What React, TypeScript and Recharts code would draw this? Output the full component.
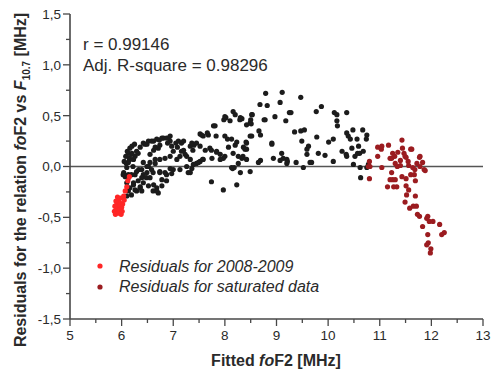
import React from 'react';
import { ScatterChart, Scatter, XAxis, YAxis, ReferenceLine } from 'recharts';

const xTicks = [5, 5.5, 6, 6.5, 7, 7.5, 8, 8.5, 9, 9.5, 10, 10.5, 11, 11.5, 12, 12.5, 13];
const yTicks = [-1.5, -1.25, -1, -0.75, -0.5, -0.25, 0, 0.25, 0.5, 0.75, 1, 1.25, 1.5];
const statLines = ['r = 0.99146', 'Adj. R-square = 0.98296'];
const legendLabels = ['Residuals for 2008-2009', 'Residuals for saturated data'];

const residualsAll: [number, number][] = [
  [8.79,0.72],[9.11,0.73],[8.68,0.61],[8.82,0.60],[9.07,0.63],[9.25,0.53],[8.16,0.54],[8.02,0.48],[8.10,0.45],[7.98,0.46],
  [8.33,0.47],[8.53,0.51],[8.51,0.42],[8.50,0.46],[8.78,0.46],[8.97,0.49],[7.81,0.40],[7.52,0.32],[7.68,0.31],[7.66,0.33],
  [7.83,0.30],[8.00,0.30],[8.05,0.27],[8.13,0.27],[8.23,0.24],[8.20,0.21],[8.36,0.19],[8.41,0.24],[8.49,0.30],[8.66,0.35],
  [8.69,0.31],[8.91,0.23],[9.10,0.13],[8.69,0.06],[8.42,0.07],[8.33,0.08],[8.26,0.10],[8.16,0.13],[8.07,0.19],[8.00,0.10],
  [7.97,0.08],[7.91,0.12],[7.84,0.14],[7.74,0.16],[7.62,0.16],[7.57,0.07],[7.52,0.05],[7.45,0.03],[7.33,0.07],[7.26,0.10],
  [7.20,0.16],[7.08,0.19],[7.05,0.23],[6.94,0.25],[6.91,0.28],[6.81,0.28],[6.74,0.21],[6.71,0.18],[6.65,0.19],[6.62,0.16],
  [6.55,0.12],[6.49,0.22],[6.52,0.25],[6.42,0.23],[6.36,0.19],[6.29,0.15],[6.26,0.10],[6.20,0.13],[6.15,0.08],[6.09,0.03],
  [6.22,0.00],[6.33,-0.03],[6.13,-0.08],[6.07,-0.10],[6.04,-0.06],[6.10,-0.16],[6.23,-0.18],[6.36,-0.20],[6.42,-0.16],[6.29,-0.24],
  [6.39,-0.24],[6.71,-0.26],[6.68,-0.21],[6.62,-0.18],[6.78,-0.13],[6.87,-0.08],[7.00,-0.03],[7.13,-0.03],[7.26,0.00],[7.33,-0.06],
  [7.36,-0.02],[6.94,-0.02],[6.74,-0.05],[6.55,-0.11],[6.49,-0.06],[6.42,-0.08],[6.52,0.00],[6.65,0.03],[6.74,0.07],[6.84,0.08],
  [6.94,0.10],[7.07,0.07],[7.13,0.10],[7.23,0.12],[7.38,0.16],[7.40,0.21],[7.52,0.20],[7.33,0.20],[7.20,0.25],[6.89,0.23],
  [6.97,0.20],[6.73,0.26],[6.62,0.25],[7.74,-0.15],[7.97,-0.23],[8.23,-0.18],[8.49,-0.05],[8.94,0.08],[9.13,0.08],[9.20,0.03],
  [8.15,-0.02],[8.18,-0.01],[8.26,0.03],
  [6.16,0.07],[6.58,0.25],[6.68,0.27],[6.87,0.28],[6.94,0.30],[6.10,-0.01],[6.03,-0.08],[6.26,-0.08],[6.39,-0.03],[6.49,0.00],
  [6.61,-0.06],[6.68,-0.24],[6.97,-0.07],[7.39,0.02],[7.58,0.07],[7.00,0.15],[7.16,0.23],[7.36,0.23],[7.58,0.30],[7.78,0.40],
  [8.00,0.49],[8.29,0.46],
  [8.30,0.48],[8.42,0.41],[8.52,0.51],[8.42,0.23],[8.39,0.17],[8.35,0.10],[8.52,0.30],[8.76,0.46],[9.18,0.45],[9.28,0.53],
  [9.47,0.68],[9.35,0.34],[9.47,0.35],[9.54,0.36],[9.49,0.25],[9.59,0.17],[9.62,0.20],[9.81,0.13],[9.94,0.11],[9.78,0.29],
  [9.77,0.54],[9.87,0.59],[10.01,0.24],[10.10,0.27],[10.12,0.53],[10.17,0.51],[10.17,0.45],[10.18,0.40],[10.36,0.53],[10.27,0.15],
  [10.35,0.12],[10.48,0.36],[10.36,0.33],[10.39,0.30],[10.43,0.27],[10.46,0.18],[10.56,0.27],[10.59,0.20],[10.52,0.10],[10.57,0.13],
  [10.61,0.13],[10.67,0.36],[10.75,0.31],[10.74,0.27],[10.68,0.15],[10.49,0.02],[10.63,-0.11],[10.75,-0.01],[10.78,0.02],[10.62,-0.01],
  [9.59,0.12],[9.65,0.04],[9.52,-0.01],[9.68,0.04],[9.38,0.04],[9.20,0.07],[9.07,0.06],[8.91,0.22],[8.30,-0.06],[10.10,0.05],
  [10.36,0.10],[9.21,0.05],
  [6.13,0.13],[6.19,0.12],[6.23,0.07],[6.13,0.04],[6.32,0.13],[6.42,0.04],[6.45,0.22],[6.78,0.28],[6.13,-0.11],[6.19,-0.08],
  [6.29,-0.05],[6.23,-0.16],[6.32,-0.14],[6.39,-0.11],[6.48,-0.11],[6.16,-0.21],[6.26,-0.23],[6.36,-0.21],[6.52,-0.19],[6.61,-0.24],
  [6.78,-0.19],[6.87,-0.14],[6.74,-0.06],[6.84,-0.06],[6.13,-0.24],[6.19,-0.28],[6.10,-0.29],[6.58,-0.03],[6.55,0.04],[6.65,0.07],
  [6.05,0.05],[6.08,0.10],[6.11,0.15],[6.16,0.18],[6.20,0.20],[6.25,0.22],
  [7.10,0.25],[7.45,0.23],[7.55,0.31],[8.20,0.51],[8.49,0.43],[7.16,0.15],[7.71,0.18],[7.84,0.15],[8.42,0.17],[7.91,0.07],
  [7.75,0.08],[7.49,0.04],[7.29,-0.06],[8.13,-0.01],[8.65,0.04]
];

const residuals20082009: [number, number][] = [
  [5.86,-0.44],[5.88,-0.47],[5.90,-0.40],[5.92,-0.45],[5.91,-0.36],[5.93,-0.42],[5.95,-0.38],[5.87,-0.39],[5.94,-0.33],[5.97,-0.36],
  [5.96,-0.43],[5.99,-0.47],[6.00,-0.40],[6.02,-0.37],[5.98,-0.31],[5.92,-0.30],[6.04,-0.29],[6.07,-0.24],[6.10,-0.20],[6.12,-0.14],
  [6.15,-0.10],[5.89,-0.34],[5.95,-0.46],[6.01,-0.44],[6.05,-0.33]
];

const residualsSaturated: [number, number][] = [
  [10.80,0.05],[10.78,0.00],[10.80,-0.12],[10.96,0.19],[11.03,0.17],[10.96,0.10],[11.04,-0.01],[11.17,0.21],[11.25,0.13],[11.23,0.08],
  [11.20,0.08],[11.29,0.10],[11.35,0.14],[11.43,0.26],[11.44,0.18],[11.47,0.13],[11.51,0.09],[11.60,0.17],[11.49,0.10],[11.30,0.03],
  [11.34,0.00],[11.40,0.01],[11.23,-0.06],[11.25,-0.13],[11.30,-0.13],[11.15,-0.20],[11.27,-0.20],[11.33,-0.20],[11.43,-0.10],[11.51,-0.12],
  [11.56,0.01],[11.60,-0.08],[11.64,-0.01],[11.67,-0.08],[11.69,-0.14],[11.51,-0.19],[11.52,-0.28],[11.69,-0.29],[11.49,-0.35],[11.58,-0.41],
  [11.65,-0.39],[11.71,-0.39],[11.78,0.10],[11.83,0.04],[11.86,-0.03],[11.78,0.00],[11.73,-0.47],[11.77,-0.49],[11.91,-0.51],[11.96,-0.54],
  [12.03,-0.54],[11.93,-0.49],[11.83,-0.59],[12.16,-0.57],[12.25,-0.65],[12.20,-0.67],[11.93,-0.67],[11.94,-0.75],[11.91,-0.77],[11.99,-0.81],
  [11.98,-0.85],[11.04,0.20],[11.62,0.17],[11.77,0.09],[11.88,-0.04],[10.81,0.00],[11.40,0.06],[11.55,0.05],[11.68,-0.03],[11.72,0.03],
  [11.56,-0.23],[11.20,-0.13]
];

const toPoints = (arr: [number, number][]) => arr.map(([x, y]) => ({ x, y }));

const FONT = '"Liberation Sans", Arial, sans-serif';
const AXIS_COLOR = '#474747';
const TEXT_COLOR = '#2a2a2a';

const dot = (color: string) => (props: any) => {
  const { cx, cy } = props;
  if (cx == null || cy == null) return <g />;
  return <circle cx={cx} cy={cy} r={2.6} fill={color} />;
};

const XTick = (props: any) => {
  const { x, y, payload } = props;
  const v = payload.value as number;
  const major = Number.isInteger(v);
  return (
    <g>
      <line x1={x} x2={x} y1={y} y2={y + (major ? 7 : 4)} stroke={AXIS_COLOR} strokeWidth={1.3} />
      {major && (
        <text x={x} y={y + 21} textAnchor="middle" fontFamily={FONT} fontSize={13.5} fill={TEXT_COLOR}>
          {String(v)}
        </text>
      )}
    </g>
  );
};

const YTick = (props: any) => {
  const { x, y, payload } = props;
  const v = payload.value as number;
  const major = Math.abs(v * 2 - Math.round(v * 2)) < 1e-9;
  return (
    <g>
      <line x1={x} x2={x - (major ? 7 : 4)} y1={y} y2={y} stroke={AXIS_COLOR} strokeWidth={1.3} />
      {major && (
        <text x={x - 9} y={y} dy="0.36em" textAnchor="end" fontFamily={FONT} fontSize={13.5} fill={TEXT_COLOR}>
          {v.toFixed(1).replace('.', ',')}
        </text>
      )}
    </g>
  );
};

export default function App() {
  return (
    <div style={{ position: 'absolute', left: 0, top: 0, width: 497, height: 382, background: '#fff' }}>
      <ScatterChart width={497} height={382} margin={{ top: 14, right: 14, bottom: 23, left: 20 }}>
        <XAxis
          type="number"
          dataKey="x"
          domain={[5, 13]}
          ticks={xTicks}
          interval={0}
          height={40}
          tickSize={0}
          tickMargin={0}
          allowDataOverflow
          axisLine={{ stroke: AXIS_COLOR, strokeWidth: 1.6 }}
          tickLine={false}
          tick={<XTick />}
        />
        <YAxis
          type="number"
          dataKey="y"
          domain={[-1.5, 1.5]}
          ticks={yTicks}
          interval={0}
          width={50}
          tickSize={0}
          tickMargin={0}
          allowDataOverflow
          axisLine={{ stroke: AXIS_COLOR, strokeWidth: 1.6 }}
          tickLine={false}
          tick={<YTick />}
        />
        <ReferenceLine y={0} stroke="#555" strokeWidth={1.6} />
        <Scatter data={toPoints(residualsAll)} fill="#1c1c1c" shape={dot('#1c1c1c')} isAnimationActive={false} />
        <Scatter data={toPoints(residualsSaturated)} fill="#9b1c20" shape={dot('#9b1c20')} isAnimationActive={false} />
        <Scatter data={toPoints(residuals20082009)} fill="#ff2626" shape={dot('#ff2626')} isAnimationActive={false} />
      </ScatterChart>
      <svg width={497} height={382} style={{ position: 'absolute', left: 0, top: 0, pointerEvents: 'none' }}>
        <text x={83} y={50} fontFamily={FONT} fontSize={17} fill={TEXT_COLOR}>{statLines[0]}</text>
        <text x={83} y={71} fontFamily={FONT} fontSize={17} fill={TEXT_COLOR}>{statLines[1]}</text>
        <circle cx={100} cy={266} r={2.6} fill="#ff2626" />
        <circle cx={100} cy={287} r={2.6} fill="#9b1c20" />
        <text x={119} y={272} fontFamily={FONT} fontSize={16} fontStyle="italic" fill={TEXT_COLOR}>{legendLabels[0]}</text>
        <text x={119} y={292} fontFamily={FONT} fontSize={16} fontStyle="italic" fill={TEXT_COLOR}>{legendLabels[1]}</text>
        <text x={276} y={366} textAnchor="middle" fontFamily={FONT} fontSize={16} fontWeight="bold" fill={TEXT_COLOR}>
          Fitted <tspan fontStyle="italic">fo</tspan>F2 [MHz]
        </text>
        <text transform="translate(26,180) rotate(-90)" x={0} y={0} textAnchor="middle" fontFamily={FONT} fontSize={16} fontWeight="bold" fill={TEXT_COLOR}>
          Residuals for the relation <tspan fontStyle="italic">fo</tspan>F2 vs <tspan fontStyle="italic">F</tspan>
          <tspan fontSize={10} dy={4}>10.7</tspan>
          <tspan dy={-4}> [MHz]</tspan>
        </text>
      </svg>
    </div>
  );
}
